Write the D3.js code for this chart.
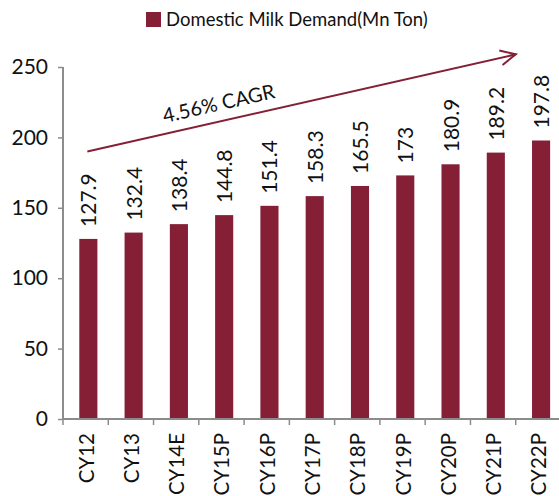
<!DOCTYPE html>
<html>
<head>
<meta charset="utf-8">
<script src="https://cdn.jsdelivr.net/npm/d3@7"></script>
<style>
  body { margin: 0; background: #fff; }
  svg { font-family: Lato, "Open Sans", sans-serif; }
</style>
</head>
<body>
<div id="chart"></div>
<script>
const years = ["CY12", "CY13", "CY14E", "CY15P", "CY16P", "CY17P", "CY18P", "CY19P", "CY20P", "CY21P", "CY22P"];
const demand = [127.9, 132.4, 138.4, 144.8, 151.4, 158.3, 165.5, 173, 180.9, 189.2, 197.8];
const demandLabels = ["127.9", "132.4", "138.4", "144.8", "151.4", "158.3", "165.5", "173", "180.9", "189.2", "197.8"];
const yTicks = [0, 50, 100, 150, 200, 250];
const seriesName = "Domestic Milk Demand(Mn Ton)";
const cagrText = "4.56% CAGR";

const width = 559, height = 496;
const barColor = "#841f35";
const axisColor = "#8c8c8c";

const svg = d3.select("#chart").append("svg")
    .attr("width", width)
    .attr("height", height);

let x = d3.scaleBand()
    .domain(years)
    .range([63, 561])
    .paddingInner(0.6)
    .paddingOuter(0.3)
    .align(0.6);

let y = d3.scaleLinear()
    .domain([0, 250])
    .range([419, 67]);

// bars
svg.append("g")
    .selectAll("rect")
    .data(years)
    .join("rect")
        .attr("x", d => x(d))
        .attr("y", (d, i) => y(demand[i]))
        .attr("width", x.bandwidth())
        .attr("height", (d, i) => y(0) - y(demand[i]))
        .attr("fill", barColor);

// value labels
svg.append("g")
    .selectAll("text")
    .data(years)
    .join("text")
        .attr("transform", (d, i) => `translate(${x(d) + x.bandwidth() / 2 + 8},${y(demand[i]) - 12}) rotate(-90)`)
        .attr("font-size", 21)
        .attr("fill", "#111")
        .text((d, i) => demandLabels[i]);

// y axis
const yAxis = svg.append("g")
    .attr("transform", "translate(63,0)")
    .call(d3.axisLeft(y).tickValues(yTicks).tickSize(5).tickPadding(10));
yAxis.select(".domain").attr("stroke", axisColor).attr("stroke-width", 2).attr("d", `M0,${y(250)}V${y(0)}`);
yAxis.selectAll(".tick line").attr("stroke", axisColor).attr("stroke-width", 1.5);
yAxis.selectAll(".tick text").attr("font-size", 21).attr("font-family", "Lato, sans-serif").attr("fill", "#111");

// x axis with ticks at band boundaries
const step = x.step();
const x0 = 63;
const xAxis = svg.append("g");
xAxis.append("line")
    .attr("x1", x0).attr("x2", width)
    .attr("y1", y(0)).attr("y2", y(0))
    .attr("stroke", axisColor).attr("stroke-width", 2);
xAxis.selectAll("line.tick")
    .data(d3.range(years.length + 1))
    .join("line")
        .attr("class", "tick")
        .attr("x1", i => x0 + i * step)
        .attr("x2", i => x0 + i * step)
        .attr("y1", y(0))
        .attr("y2", y(0) + 6)
        .attr("stroke", axisColor)
        .attr("stroke-width", 1.5);
xAxis.selectAll("text")
    .data(years)
    .join("text")
        .attr("transform", (d, i) => `translate(${x0 + (i + 0.5) * step + 8},${y(0) + 14}) rotate(-90)`)
        .attr("text-anchor", "end")
        .attr("font-size", 20.5)
        .attr("fill", "#111")
        .text(d => d);

// CAGR arrow
const arrowStart = [x(years[0]) + x.bandwidth() / 2 - 1, y(190)];
const arrowEnd = [x(years[9]) + x.bandwidth() + 11, y(259)];
svg.append("line")
    .attr("x1", arrowStart[0]).attr("y1", arrowStart[1])
    .attr("x2", arrowEnd[0]).attr("y2", arrowEnd[1])
    .attr("stroke", barColor).attr("stroke-width", 2);
const ang = Math.atan2(arrowEnd[1] - arrowStart[1], arrowEnd[0] - arrowStart[0]);
const head = 17, spread = 0.45;
svg.append("path")
    .attr("d", `M${arrowEnd[0] - head * Math.cos(ang - spread)},${arrowEnd[1] - head * Math.sin(ang - spread)}
                L${arrowEnd[0]},${arrowEnd[1]}
                L${arrowEnd[0] - head * Math.cos(ang + spread)},${arrowEnd[1] - head * Math.sin(ang + spread)}`)
    .attr("fill", "none")
    .attr("stroke", barColor)
    .attr("stroke-width", 2);
const deg = ang * 180 / Math.PI;
const tPos = [arrowStart[0] + 0.31 * (arrowEnd[0] - arrowStart[0]), arrowStart[1] + 0.31 * (arrowEnd[1] - arrowStart[1]) - 11];
svg.append("text")
    .attr("transform", `translate(${tPos[0]},${tPos[1]}) rotate(${deg})`)
    .attr("text-anchor", "middle")
    .attr("font-size", 20)
    .attr("fill", "#111")
    .text(cagrText);

// legend
const legend = svg.append("g").attr("transform", "translate(146,12)");
legend.append("rect").attr("width", 15).attr("height", 15).attr("fill", barColor);
legend.append("text")
    .attr("x", 20).attr("y", 14)
    .attr("font-size", 18.5)
    .attr("fill", "#111")
    .text(seriesName);
</script>
</body>
</html>
